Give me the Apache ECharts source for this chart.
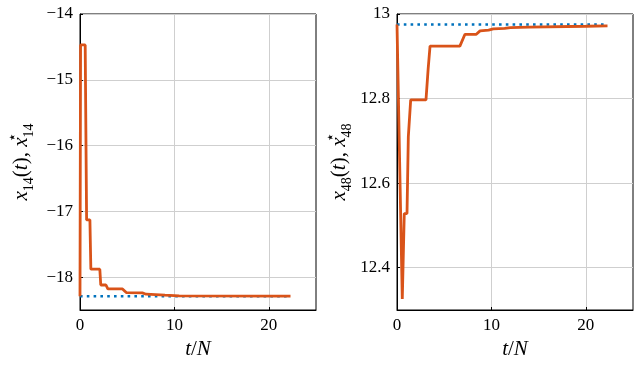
<!DOCTYPE html>
<html>
<head>
<meta charset="utf-8">
<script src="https://cdn.jsdelivr.net/npm/echarts@6/dist/echarts.min.js"></script>
<style>
  html, body { margin: 0; padding: 0; background: #fff; }
  #chart { width: 634px; height: 367px; }
</style>
</head>
<body>
<div id="chart"></div>
<script>
// tick labels
const xTicks = [0, 10, 20];
const leftYTicks = [-18, -17, -16, -15, -14];
const rightYTicks = [12.4, 12.6, 12.8, 13];

// x_14(t) trajectory
const leftT = [0, 0.06, 0.55, 0.7, 1.05, 1.15, 2.1, 2.2, 2.75, 2.95, 4.5, 4.9, 6.6, 7.0, 9.0, 10.5, 22.3];
const leftX = [-18.29, -14.47, -14.47, -17.13, -17.13, -17.88, -17.88, -18.12, -18.12, -18.18, -18.18, -18.235, -18.24, -18.26, -18.275, -18.285, -18.29];
// x*_14 reference
const leftStarT = [0, 22.3];
const leftStar = [-18.29, -18.29];

// x_48(t) trajectory
const rightT = [0, 0.56, 0.77, 1.06, 1.2, 1.45, 3.07, 3.3, 3.5, 6.66, 7.2, 8.4, 8.8, 9.7, 10.2, 11.4, 12, 14, 20, 22.3];
const rightX = [12.975, 12.326, 12.528, 12.528, 12.71, 12.797, 12.797, 12.87, 12.924, 12.924, 12.952, 12.952, 12.96, 12.962, 12.965, 12.966, 12.968, 12.969, 12.971, 12.972];
// x*_48 reference
const rightStarT = [0, 22.3];
const rightStar = [12.975, 12.975];

const orange = '#D95319';
const blue = '#0072BD';
const font = 'Liberation Serif';

const pairs = (ts, vs) => ts.map((t, i) => [t, vs[i]]);
const fmt = v => String(v).replace('-', '\u2212');

const nameRich = {
  i: { fontFamily: font, fontStyle: 'italic', fontSize: 21, verticalAlign: 'middle', lineHeight: 30 },
  n: { fontFamily: font, fontSize: 21, verticalAlign: 'middle', lineHeight: 30 },
  s: { fontFamily: font, fontSize: 14, verticalAlign: 'bottom', lineHeight: 30 },
  p: { fontFamily: font, fontSize: 15, verticalAlign: 'top', lineHeight: 30, width: 0, align: 'left' }
};
const yName = k => '{i|x}{s|' + k + '}{n|(}{i|t}{n|), }{i|x}{p|\u22c6}{s|' + k + '}';

function xAxis(idx) {
  return {
    type: 'value', gridIndex: idx, min: 0, max: 25,
    name: '{i|t}{n|/}{i|N}', nameLocation: 'middle', nameGap: 21,
    nameTextStyle: { color: '#000', rich: nameRich },
    axisLine: { show: true, onZero: false, lineStyle: { color: '#000', width: 1 } },
    axisTick: { show: true, inside: true, length: 3, customValues: xTicks, lineStyle: { color: '#000' } },
    axisLabel: { customValues: xTicks, color: '#000', fontFamily: font, fontSize: 17, margin: 7 },
    splitLine: { show: true, lineStyle: { color: '#cfcfcf', width: 1 } }
  };
}

function yAxis(idx, min, max, ticks, k, gap) {
  return {
    type: 'value', gridIndex: idx, min: min, max: max,
    name: yName(k), nameLocation: 'middle', nameGap: gap, nameRotate: 90,
    nameTextStyle: { color: '#000', rich: nameRich },
    axisLine: { show: true, onZero: false, lineStyle: { color: '#000', width: 1 } },
    axisTick: { show: true, inside: true, length: 3, customValues: ticks, lineStyle: { color: '#000' } },
    axisLabel: { customValues: ticks, color: '#000', fontFamily: font, fontSize: 17, margin: 7, formatter: fmt },
    splitLine: { show: true, lineStyle: { color: '#cfcfcf', width: 1 } }
  };
}

const chart = echarts.init(document.getElementById('chart'), null, { renderer: 'canvas' });
chart.setOption({
  animation: false,
  backgroundColor: '#fff',
  grid: [
    { left: 80, top: 14, width: 236, height: 296, show: true, borderColor: '#000', borderWidth: 1 },
    { left: 397, top: 14, width: 236, height: 296, show: true, borderColor: '#000', borderWidth: 1 }
  ],
  xAxis: [xAxis(0), xAxis(1)],
  yAxis: [
    yAxis(0, -18.5, -14, leftYTicks, 14, 44),
    yAxis(1, 12.3, 13, rightYTicks, 48, 43)
  ],
  series: [
    { type: 'line', xAxisIndex: 0, yAxisIndex: 0, data: pairs(leftStarT, leftStar), showSymbol: false,
      lineStyle: { color: blue, width: 2.6, type: [2.6, 4.2], cap: 'butt' }, z: 2 },
    { type: 'line', xAxisIndex: 0, yAxisIndex: 0, data: pairs(leftT, leftX), showSymbol: false,
      lineStyle: { color: orange, width: 2.8 }, z: 3 },
    { type: 'line', xAxisIndex: 1, yAxisIndex: 1, data: pairs(rightStarT, rightStar), showSymbol: false,
      lineStyle: { color: blue, width: 2.6, type: [2.6, 4.2], cap: 'butt' }, z: 2 },
    { type: 'line', xAxisIndex: 1, yAxisIndex: 1, data: pairs(rightT, rightX), showSymbol: false,
      lineStyle: { color: orange, width: 2.8 }, z: 3 }
  ]
});
</script>
</body>
</html>
